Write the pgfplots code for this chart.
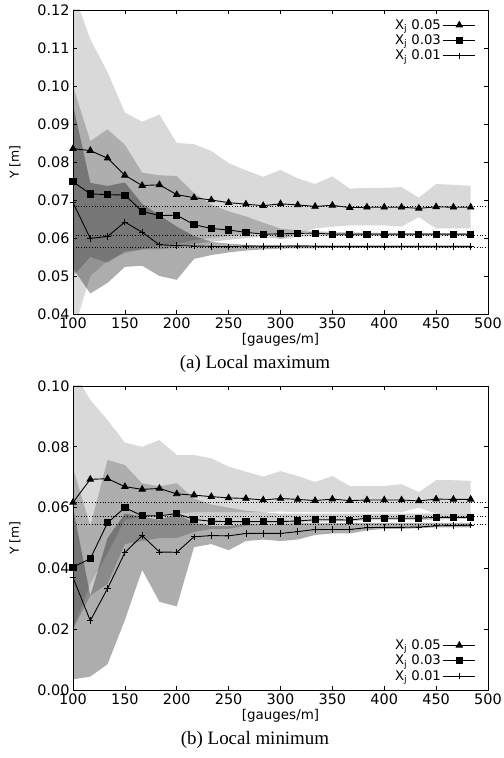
\documentclass[border=0pt]{standalone}
\usepackage{fontspec}
\setmainfont{Liberation Serif}
\setsansfont{DejaVu Sans}
\usepackage{pgfplots}
\usepackage{pgfplotstable}
\pgfplotsset{compat=1.18}
\usepgfplotslibrary{fillbetween}

\pgfplotstableread{
x      tri     sq      pl      aU     aL     bU     bL     cU     cL
100    0.0835  0.0748  0.0693  0.125  0.035  0.100  0.050  0.095  0.0520
116.67 0.0830  0.0716  0.0599  0.1123 0.050  0.0855 0.055  0.0745 0.0454
133.33 0.0810  0.0714  0.0604  0.1036 0.054  0.0886 0.0535 0.0737 0.0482
150    0.0765  0.0713  0.0642  0.0930 0.056  0.0845 0.0565 0.0746 0.0524
166.67 0.0738  0.0670  0.0615  0.0906 0.057  0.0772 0.057  0.0690 0.0527
183.33 0.0740  0.0659  0.0582  0.0925 0.058  0.0765 0.057  0.0660 0.0500
200    0.0714  0.0660  0.0580  0.0850 0.0585 0.0763 0.0575 0.0630 0.0490
216.67 0.0706  0.0635  0.0579  0.0847 0.0595 0.0718 0.0585 0.0605 0.0545
233.33 0.0700  0.0625  0.0578  0.0829 0.060  0.0688 0.059  0.0590 0.0555
250    0.0693  0.0621  0.0577  0.0797 0.0605 0.0670 0.0595 0.0585 0.0562
266.67 0.0689  0.0615  0.0579  0.0778 0.061  0.0657 0.0600 0.0582 0.0567
283.33 0.0685  0.0610  0.0578  0.0761 0.0615 0.0640 0.0603 0.0581 0.0570
300    0.0690  0.0611  0.0578  0.0779 0.0598 0.0625 0.0597 0.0581 0.0572
316.67 0.0687  0.0612  0.0579  0.0757 0.061  0.0620 0.0603 0.0581 0.0573
333.33 0.0683  0.0613  0.0578  0.0742 0.0625 0.0618 0.0605 0.0581 0.0573
350    0.0686  0.0610  0.0578  0.0762 0.063  0.0616 0.0605 0.0580 0.0574
366.67 0.0680  0.0610  0.0578  0.0730 0.0633 0.0615 0.0605 0.0580 0.0574
383.33 0.0681  0.0610  0.0578  0.0732 0.0633 0.0614 0.0605 0.0580 0.0574
400    0.0681  0.0610  0.0578  0.0732 0.0633 0.0614 0.0605 0.0580 0.0574
416.67 0.0681  0.0610  0.0578  0.0734 0.0630 0.0613 0.0605 0.0580 0.0574
433.33 0.0678  0.0610  0.0578  0.0706 0.0655 0.0613 0.0605 0.0580 0.0574
450    0.0682  0.0610  0.0578  0.0742 0.0625 0.0613 0.0605 0.0580 0.0574
466.67 0.0681  0.0610  0.0578  0.0740 0.0625 0.0613 0.0605 0.0580 0.0574
483.33 0.0681  0.0610  0.0578  0.0737 0.0625 0.0613 0.0605 0.0580 0.0574
}\topdata

\pgfplotstableread{
x      tri     sq      pl      aU     aL     bU     bL     cU     cL
100    0.0617  0.0404  0.0370  0.105  0.020  0.073  0.020  0.060  0.0035
116.67 0.0693  0.0432  0.0228  0.0954 0.035  0.054  0.031  0.031  0.0044
133.33 0.0695  0.0550  0.0334  0.0888 0.045  0.0757 0.035  0.050  0.0085
150    0.0669  0.0600  0.0452  0.0814 0.056  0.074  0.048  0.058  0.023
166.67 0.0660  0.0573  0.0508  0.0800 0.057  0.068  0.049  0.057  0.0395
183.33 0.0663  0.0573  0.0454  0.0822 0.0575 0.067  0.050  0.056  0.029
200    0.0645  0.0580  0.0453  0.0773 0.058  0.068  0.050  0.058  0.0275
216.67 0.0641  0.0561  0.0504  0.0773 0.0585 0.063  0.052  0.055  0.047
233.33 0.0636  0.0555  0.0508  0.0762 0.0585 0.061  0.053  0.054  0.048
250    0.0632  0.0554  0.0507  0.0735 0.0585 0.060  0.053  0.054  0.046
266.67 0.0630  0.0554  0.0515  0.0718 0.0585 0.059  0.054  0.0545 0.049
283.33 0.0625  0.0554  0.0515  0.0702 0.0585 0.0585 0.0545 0.0545 0.0495
300    0.0630  0.0554  0.0515  0.0720 0.0587 0.058  0.0545 0.0545 0.049
316.67 0.0627  0.0556  0.0521  0.0704 0.0585 0.058  0.055  0.055  0.0495
333.33 0.0623  0.0560  0.0528  0.0684 0.0585 0.058  0.0553 0.055  0.051
350    0.0628  0.0560  0.0528  0.0704 0.0585 0.058  0.0555 0.055  0.0515
366.67 0.0623  0.0559  0.0528  0.0671 0.0585 0.058  0.0555 0.055  0.0515
383.33 0.0625  0.0565  0.0534  0.0671 0.0585 0.058  0.0558 0.055  0.0525
400    0.0625  0.0565  0.0535  0.0671 0.0585 0.058  0.0558 0.055  0.053
416.67 0.0625  0.0565  0.0535  0.0677 0.0585 0.058  0.056  0.055  0.053
433.33 0.0622  0.0565  0.0536  0.0651 0.0600 0.058  0.056  0.055  0.0532
450    0.0628  0.0568  0.0540  0.0690 0.0580 0.058  0.056  0.055  0.0535
466.67 0.0627  0.0568  0.0541  0.0690 0.0580 0.058  0.0562 0.055  0.0535
483.33 0.0627  0.0568  0.0542  0.0688 0.0580 0.058  0.0562 0.055  0.0535
}\botdata

\pgfplotsset{
 mystyle/.style={
  scale only axis, width=415bp, height=304bp, xmin=100, xmax=500, xtick={100,150,...,500},
  tick align=inside, major tick length=4bp,
  axis line style={line width=0.8bp},
  every tick/.style={black, line width=0.6bp},
  ticklabel style={font=\sffamily\fontsize{14.5}{16}\selectfont},
  /pgf/number format/assume math mode=true,
  yticklabel style={/pgf/number format/fixed, /pgf/number format/fixed zerofill, /pgf/number format/precision=2},
  ylabel={Y [m]},
  ylabel style={font=\sffamily\fontsize{12.5}{14}\selectfont, at={(axis description cs:-0.14,0.5)}, anchor=center},
  xlabel={[gauges/m]},
  xlabel style={font=\sffamily\fontsize{13.5}{15}\selectfont, at={(axis description cs:0.5,-0.0855)}, anchor=center},
  legend style={draw=none, fill=none, font=\sffamily\fontsize{13.3}{15}\selectfont, row sep=0bp, inner sep=0bp},
  legend cell align=right,
  legend plot pos=right,
  legend image code/.code={\draw[mark repeat=2,mark phase=2,##1] plot coordinates {(0bp,0bp) (16bp,0bp) (32bp,0bp)};},
 },
 ser/.style={black, line width=0.9bp},
}

\begin{document}
\begin{tikzpicture}

\begin{axis}[mystyle, at={(73bp,444bp)}, anchor=south west,
  ymin=0.04, ymax=0.12, ytick={0.04,0.05,...,0.121},
  legend style={at={(0.971,0.976)}, anchor=north east}]
\addplot[name path=aU, draw=none, forget plot] table[x=x,y=aU]{\topdata};
\addplot[name path=aL, draw=none, forget plot] table[x=x,y=aL]{\topdata};
\addplot[fill=black, fill opacity=0.15, draw=none, forget plot] fill between[of=aU and aL];
\addplot[name path=bU, draw=none, forget plot] table[x=x,y=bU]{\topdata};
\addplot[name path=bL, draw=none, forget plot] table[x=x,y=bL]{\topdata};
\addplot[fill=black, fill opacity=0.2, draw=none, forget plot] fill between[of=bU and bL];
\addplot[name path=cU, draw=none, forget plot] table[x=x,y=cU]{\topdata};
\addplot[name path=cL, draw=none, forget plot] table[x=x,y=cL]{\topdata};
\addplot[fill=black, fill opacity=0.32, draw=none, forget plot] fill between[of=cU and cL];
\addplot[black, dotted, line width=0.7bp, forget plot] coordinates {(100,0.0682) (500,0.0682)};
\addplot[black, dotted, line width=0.7bp, forget plot] coordinates {(100,0.0608) (500,0.0608)};
\addplot[black, dotted, line width=0.7bp, forget plot] coordinates {(100,0.0575) (500,0.0575)};
\addplot[ser, mark=triangle*, mark size=3.6bp] table[x=x,y=tri]{\topdata};
\addlegendentry{X\textsubscript{j} 0.05}
\addplot[ser, mark=square*, mark size=3.1bp] table[x=x,y=sq]{\topdata};
\addlegendentry{X\textsubscript{j} 0.03}
\addplot[ser, mark=+, mark size=3.2bp, mark options={line width=0.8bp}] table[x=x,y=pl]{\topdata};
\addlegendentry{X\textsubscript{j} 0.01}
\end{axis}

\node[font=\fontsize{19}{23}\selectfont] at (255bp,394bp) {(a) Local maximum};

\begin{axis}[mystyle, at={(73bp,68bp)}, anchor=south west,
  ymin=0, ymax=0.10, ytick={0,0.02,...,0.101},
  legend style={at={(0.971,0.02)}, anchor=south east}]
\addplot[name path=aU, draw=none, forget plot] table[x=x,y=aU]{\botdata};
\addplot[name path=aL, draw=none, forget plot] table[x=x,y=aL]{\botdata};
\addplot[fill=black, fill opacity=0.15, draw=none, forget plot] fill between[of=aU and aL];
\addplot[name path=bU, draw=none, forget plot] table[x=x,y=bU]{\botdata};
\addplot[name path=bL, draw=none, forget plot] table[x=x,y=bL]{\botdata};
\addplot[fill=black, fill opacity=0.2, draw=none, forget plot] fill between[of=bU and bL];
\addplot[name path=cU, draw=none, forget plot] table[x=x,y=cU]{\botdata};
\addplot[name path=cL, draw=none, forget plot] table[x=x,y=cL]{\botdata};
\addplot[fill=black, fill opacity=0.32, draw=none, forget plot] fill between[of=cU and cL];
\addplot[black, dotted, line width=0.7bp, forget plot] coordinates {(100,0.0618) (500,0.0618)};
\addplot[black, dotted, line width=0.7bp, forget plot] coordinates {(100,0.0571) (500,0.0571)};
\addplot[black, dotted, line width=0.7bp, forget plot] coordinates {(100,0.0545) (500,0.0545)};
\addplot[ser, mark=triangle*, mark size=3.6bp] table[x=x,y=tri]{\botdata};
\addlegendentry{X\textsubscript{j} 0.05}
\addplot[ser, mark=square*, mark size=3.1bp] table[x=x,y=sq]{\botdata};
\addlegendentry{X\textsubscript{j} 0.03}
\addplot[ser, mark=+, mark size=3.2bp, mark options={line width=0.8bp}] table[x=x,y=pl]{\botdata};
\addlegendentry{X\textsubscript{j} 0.01}
\end{axis}

\node[font=\fontsize{19}{23}\selectfont] at (255bp,18bp) {(b) Local minimum};
\pgfresetboundingbox
\path[use as bounding box] (0,0) rectangle (504bp,758bp);
\end{tikzpicture}
\end{document}
